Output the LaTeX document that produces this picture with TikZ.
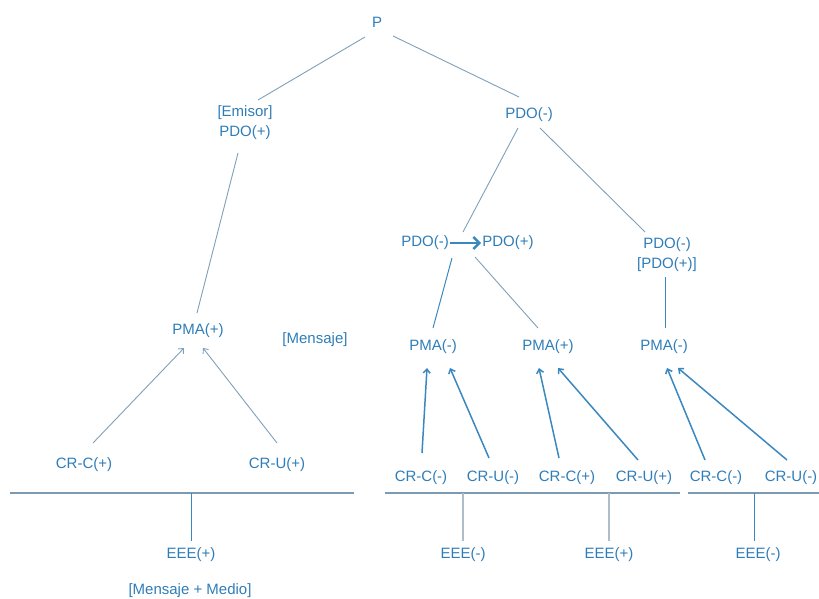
\documentclass[tikz,border=0pt]{standalone}
\usepackage{fontspec}
\setmainfont{Liberation Sans}
\usetikzlibrary{arrows.meta,calc}
\definecolor{txt}{HTML}{2F7DB8}
\definecolor{lnl}{HTML}{7FA0BA}
\definecolor{lnr}{HTML}{3A88BF}
\definecolor{hln}{HTML}{7C9BB3}
\definecolor{gln}{HTML}{AEBDC8}
\tikzset{
  lbl/.style={text=txt,font=\fontsize{15}{20}\selectfont,inner sep=1pt},
  lnleft/.style={draw=lnl,line width=0.9pt},
  lnright/.style={draw=lnr,line width=1pt},
  arl/.style={lnleft,-{Straight Barb[length=4pt,width=7pt]}},
  arr/.style={draw=lnr,line width=1.5pt,-{Straight Barb[length=4pt,width=7pt]}},
  base/.style={draw=hln,line width=1.2pt},
}
\begin{document}
\begin{tikzpicture}[x=1pt,y=-1pt]
\useasboundingbox (0,0) rectangle (819,599);
% nodes
\node[lbl] (P) at (377,22) {P};
\node[lbl,align=center] (E) at (245,123) {[Emisor]\\PDO(+)};
\node[lbl] (R) at (529,115) {PDO(-)};
\node[lbl] (A1) at (425,243) {PDO(-)};
\node[lbl] (A2) at (508,243) {PDO(+)};
\node[lbl,align=center] (B) at (667,255) {PDO(-)\\{}[PDO(+)]};
\node[lbl] (L) at (198,331) {PMA(+)};
\node[lbl] (Ms) at (315,340) {[Mensaje]};
\node[lbl] (M1) at (433,347) {PMA(-)};
\node[lbl] (M2) at (548,347) {PMA(+)};
\node[lbl] (M3) at (664,347) {PMA(-)};
\node[lbl] (C1) at (84,465) {CR-C(+)};
\node[lbl] (U1) at (277,465) {CR-U(+)};
\node[lbl] (C2) at (421,478) {CR-C(-)};
\node[lbl] (U2) at (493,478) {CR-U(-)};
\node[lbl] (C3) at (567,478) {CR-C(+)};
\node[lbl] (U3) at (644,478) {CR-U(+)};
\node[lbl] (C4) at (716,478) {CR-C(-)};
\node[lbl] (U4) at (791,478) {CR-U(-)};
\node[lbl] (E1) at (191,555) {EEE(+)};
\node[lbl] (MM) at (190,591) {[Mensaje + Medio]};
\node[lbl] (E2) at (463,555) {EEE(-)};
\node[lbl] (E3) at (609,555) {EEE(+)};
\node[lbl] (E4) at (758,555) {EEE(-)};
% baseline coordinates
\coordinate (h1a) at (10,493); \coordinate (h1b) at (354,493);
\coordinate (h2a) at (385,493); \coordinate (h2b) at (680,493);
\coordinate (h3a) at (688,493); \coordinate (h3b) at (819,493);
\coordinate (v1) at (191,493); \coordinate (v2) at (462.5,493);
\coordinate (v3) at (608.5,493); \coordinate (v4) at (754,493);
% tree lines
\draw[lnleft] ($(P)+(-12,15)$) -- ($(E)+(13,-23)$);
\draw[lnleft] ($(P)+(16,14)$) -- ($(R)+(-10,-18)$);
\draw[lnleft] ($(E)+(-7,30)$) -- ($(L)+(-1,-18)$);
\draw[lnleft] ($(R)+(-11,13)$) -- ($(A2)+(-45,-11)$);
\draw[lnleft] ($(R)+(11,13)$) -- ($(B)+(-22,-23)$);
\draw[lnright] ($(A1)+(27,15)$) -- ($(M1)+(0,-19)$);
\draw[lnleft] ($(A2)+(-33,14)$) -- ($(M2)+(-10,-19)$);
\draw[lnright] ($(B)+(-2,22)$) -- ($(M3)+(1,-19)$);
% thick arrow
\draw[draw=lnr,line width=2.6pt,-{Straight Barb[length=6pt,width=12pt]}] (A1.east) -- (A2.west);
% arrows to PMA
\draw[arl] ($(C1)+(9,-22)$) -- ($(L)+(-14,17)$);
\draw[arl] ($(U1)+(0,-22)$) -- ($(L)+(5,17)$);
\draw[arr] ($(C2)+(1,-25)$) -- ($(M1)+(-6,21)$);
\draw[arr] ($(U2)+(-4,-20)$) -- ($(M1)+(17,21)$);
\draw[arr] ($(C3)+(-8,-20)$) -- ($(M2)+(-9,21)$);
\draw[arr] ($(U3)+(-6,-18)$) -- ($(M2)+(10,21)$);
\draw[arr] ($(C4)+(-11,-18)$) -- ($(M3)+(3,21)$);
\draw[arr] ($(U4)+(-4,-18)$) -- ($(M3)+(14,21)$);
% baselines
\draw[base] (h1a) -- (h1b);
\draw[base] (h2a) -- (h2b);
\draw[base] (h3a) -- (h3b);
\draw[draw=lnr,line width=1pt] (v1) -- ($(v1 |- E1.north)+(0,-6)$);
\draw[draw=gln,line width=2pt] (v2) -- ($(v2 |- E2.north)+(0,-6)$);
\draw[draw=gln,line width=2pt] (v3) -- ($(v3 |- E3.north)+(0,-6)$);
\draw[draw=lnr,line width=1pt] (v4) -- ($(v4 |- E4.north)+(0,-6)$);
\end{tikzpicture}
\end{document}
